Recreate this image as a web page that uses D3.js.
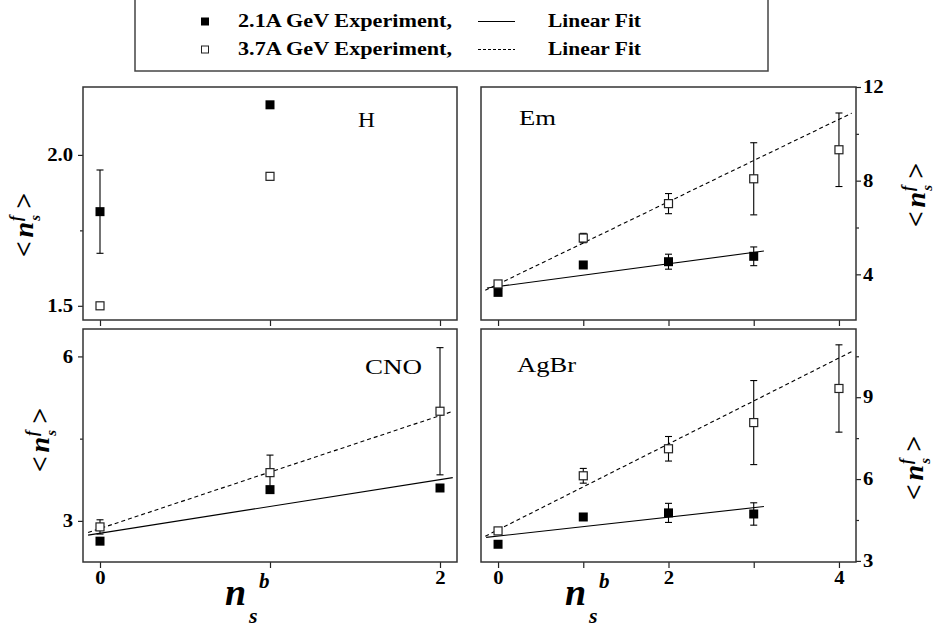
<!DOCTYPE html>
<html>
<head>
<meta charset="utf-8">
<script src="https://cdn.jsdelivr.net/npm/d3@7"></script>
<style>
  body { margin: 0; background: #fff; }
  svg { display: block; font-family: "Liberation Serif", "Times New Roman", serif; }
</style>
</head>
<body>
<svg id="chart" width="941" height="628"></svg>
<script>
// --- data ---
// H target
const hX = [0, 1];
const hFilled = [1.812, 2.166];
const hFilledErr = [0.138, 0];
const hOpen = [1.5, 1.929];
const hOpenErr = [0, 0];

// Em (whole emulsion)
const emXFilled = [0, 1, 2, 3];
const emFilled = [3.23, 4.4, 4.54, 4.77];
const emFilledErr = [0, 0, 0.32, 0.4];
const emXOpen = [0, 1, 2, 3, 4];
const emOpen = [3.59, 5.55, 7.02, 8.08, 9.32];
const emOpenErr = [0.1, 0.2, 0.43, 1.54, 1.57];
const emFit21 = [3.48, 0.486, -0.13, 3.12]; // intercept, slope, from, to
const emFit37 = [3.58, 1.76, -0.15, 4.15];

// CNO
const cnoX = [0, 1, 2];
const cnoFilled = [2.63, 3.57, 3.6];
const cnoFilledErr = [0, 0, 0];
const cnoOpen = [2.89, 3.88, 5.0];
const cnoOpenErr = [0.13, 0.32, 1.16];
const cnoFit21 = [2.775, 0.489, -0.07, 2.075];
const cnoFit37 = [2.86, 1.03, -0.07, 2.075];

// AgBr
const agXFilled = [0, 1, 2, 3];
const agFilled = [3.61, 4.61, 4.76, 4.72];
const agFilledErr = [0, 0, 0.35, 0.41];
const agXOpen = [0, 1, 2, 3, 4];
const agOpen = [4.1, 6.12, 7.11, 8.07, 9.32];
const agOpenErr = [0, 0.27, 0.45, 1.54, 1.6];
const agFit21 = [3.91, 0.347, -0.14, 3.12];
const agFit37 = [4.14, 1.574, -0.15, 4.15];

// legend
const legendNames = ["2.1A GeV Experiment,", "3.7A GeV Experiment,"];
const legendFitName = "Linear Fit";

const zip = (xs, ys, es) => xs.map((x, i) => ({ x, y: ys[i], e: es[i] }));

const panels = [
  {
    name: "H", left: 83, right: 457, top: 87, bottom: 320, side: "left",
    xDomain: [-0.1, 2.1], xTicks: [0, 1, 2], xLabels: [],
    yDomain: [1.453, 2.225], yMajor: [1.5, 2.0], yMinor: [1.75], yFormat: d3.format(".1f"),
    filled: zip(hX, hFilled, hFilledErr), open: zip(hX, hOpen, hOpenErr), fits: [],
    label: { x: 358, y: 127, len: 17 }, title: { x: 33, y: 225 }
  },
  {
    name: "Em", left: 481, right: 856, top: 87, bottom: 320, side: "right",
    xDomain: [-0.2, 4.2], xTicks: [0, 1, 2, 3, 4], xLabels: [],
    yDomain: [2.05, 12], yMajor: [4, 8, 12], yMinor: [6, 10], yFormat: d3.format("d"),
    filled: zip(emXFilled, emFilled, emFilledErr), open: zip(emXOpen, emOpen, emOpenErr),
    fits: [emFit21, emFit37],
    label: { x: 519, y: 125, len: 37 }, title: { x: 925, y: 195 }
  },
  {
    name: "CNO", left: 83, right: 457, top: 329, bottom: 562, side: "left",
    xDomain: [-0.1, 2.1], xTicks: [0, 1, 2], xLabels: [0, 2],
    yDomain: [2.25, 6.5], yMajor: [3, 6], yMinor: [4.5], yFormat: d3.format("d"),
    filled: zip(cnoX, cnoFilled, cnoFilledErr), open: zip(cnoX, cnoOpen, cnoOpenErr),
    fits: [cnoFit21, cnoFit37],
    label: { x: 365, y: 374, len: 57 }, title: { x: 49, y: 440 },
    xTitle: { x: 225, y: 605 }
  },
  {
    name: "AgBr", left: 481, right: 856, top: 329, bottom: 562, side: "right",
    xDomain: [-0.2, 4.2], xTicks: [0, 1, 2, 3, 4], xLabels: [0, 2, 4],
    yDomain: [2.96, 11.5], yMajor: [3, 6, 9], yMinor: [4.5, 7.5, 10.5], yFormat: d3.format("d"),
    filled: zip(agXFilled, agFilled, agFilledErr), open: zip(agXOpen, agOpen, agOpenErr),
    fits: [agFit21, agFit37],
    label: { x: 517, y: 372, len: 59 }, title: { x: 923, y: 468 },
    xTitle: { x: 565, y: 605 }
  }
];

const svg = d3.select("#chart");
const serif = '"Liberation Serif", "Times New Roman", serif';

function styleTicks(a) {
  a.select(".domain").remove();
  a.selectAll(".tick line").attr("stroke", "#222").attr("stroke-width", 1.2);
  a.selectAll(".tick text")
    .style("font-family", serif).style("font-size", "18px")
    .style("font-weight", "bold").attr("fill", "#000")
    .each(function () {
      const w = this.getComputedTextLength();
      if (w > 0) d3.select(this).attr("textLength", w * 1.15).attr("lengthAdjust", "spacingAndGlyphs");
    });
}

function yTitle(px, py) {
  const t = svg.append("text")
    .attr("transform", `translate(${px},${py}) rotate(-90)`)
    .attr("text-anchor", "middle")
    .attr("font-weight", "bold")
    .attr("font-size", 28);
  t.append("tspan").text("<");
  t.append("tspan").attr("dx", 4).attr("font-style", "italic").text("n");
  t.append("tspan").attr("font-size", 15).attr("font-style", "italic").attr("dx", 1).attr("dy", 7).text("s");
  t.append("tspan").attr("font-size", 16).attr("font-style", "italic").attr("dx", -6).attr("dy", -19).text("f");
  t.append("tspan").attr("dx", 7).attr("dy", 12).text(">");
}

function xTitle(px, py) {
  const g = svg.append("g").attr("font-weight", "bold").attr("font-style", "italic");
  g.append("text").attr("x", px).attr("y", py).attr("font-size", 38).text("n");
  g.append("text").attr("x", px + 24).attr("y", py + 18).attr("font-size", 22).text("s");
  g.append("text").attr("x", px + 34).attr("y", py - 17).attr("font-size", 21).text("b");
}

function drawPanel(p) {
  const x = d3.scaleLinear().domain(p.xDomain).range([p.left, p.right]);
  const y = d3.scaleLinear().domain(p.yDomain).range([p.bottom, p.top]);
  const g = svg.append("g");

  // y axis (major + minor)
  const axisFn = p.side === "left" ? d3.axisLeft : d3.axisRight;
  const ax = p.side === "left" ? p.left : p.right;
  g.append("g").attr("transform", `translate(${ax},0)`)
    .call(axisFn(y).tickValues(p.yMajor).tickSize(5).tickPadding(p.side === "left" ? 5 : 2).tickFormat(p.yFormat))
    .call(styleTicks);
  g.append("g").attr("transform", `translate(${ax},0)`)
    .call(axisFn(y).tickValues(p.yMinor).tickSize(3).tickFormat(""))
    .call(styleTicks);

  // x axis
  g.append("g").attr("transform", `translate(0,${p.bottom})`)
    .call(d3.axisBottom(x).tickValues(p.xTicks).tickSize(6).tickPadding(3)
      .tickFormat(d => p.xLabels.includes(d) ? d : ""))
    .call(styleTicks);

  // linear fits
  p.fits.forEach((f, i) => {
    const [a, b, x0, x1] = f;
    g.append("line")
      .attr("x1", x(x0)).attr("y1", y(a + b * x0))
      .attr("x2", x(x1)).attr("y2", y(a + b * x1))
      .attr("stroke", "#000").attr("stroke-width", 1.1)
      .attr("stroke-dasharray", i === 1 ? "4,3" : null);
  });

  // error bars
  const bars = p.filled.concat(p.open).filter(d => d.e > 0);
  const eb = g.append("g").attr("stroke", "#000").attr("stroke-width", 1.1);
  bars.forEach(d => {
    eb.append("line").attr("x1", x(d.x)).attr("x2", x(d.x)).attr("y1", y(d.y - d.e)).attr("y2", y(d.y + d.e));
    [d.y - d.e, d.y + d.e].forEach(v => {
      eb.append("line").attr("x1", x(d.x) - 3.5).attr("x2", x(d.x) + 3.5).attr("y1", y(v)).attr("y2", y(v));
    });
  });

  // markers
  g.selectAll(".fsq").data(p.filled).join("rect")
    .attr("x", d => x(d.x) - 4.5).attr("y", d => y(d.y) - 4.5)
    .attr("width", 9).attr("height", 9).attr("fill", "#000");
  g.selectAll(".osq").data(p.open).join("rect")
    .attr("x", d => x(d.x) - 4).attr("y", d => y(d.y) - 4)
    .attr("width", 8).attr("height", 8)
    .attr("fill", "#fff").attr("stroke", "#222").attr("stroke-width", 1.2);

  // frame
  g.append("rect")
    .attr("x", p.left).attr("y", p.top)
    .attr("width", p.right - p.left).attr("height", p.bottom - p.top)
    .attr("fill", "none").attr("stroke", "#333").attr("stroke-width", 1.5);

  // panel label
  g.append("text").attr("x", p.label.x).attr("y", p.label.y)
    .attr("font-size", 20).attr("textLength", p.label.len).attr("lengthAdjust", "spacingAndGlyphs")
    .text(p.name);

  yTitle(p.title.x, p.title.y);
  if (p.xTitle) xTitle(p.xTitle.x, p.xTitle.y);
}

panels.forEach(drawPanel);

// --- legend ---
const lg = svg.append("g");
lg.append("rect").attr("x", 135).attr("y", -1).attr("width", 633).attr("height", 72)
  .attr("fill", "#fff").attr("stroke", "#444").attr("stroke-width", 1.5);
legendNames.forEach((name, i) => {
  const cy = 21.5 + i * 28;
  if (i === 0) {
    lg.append("rect").attr("x", 201).attr("y", cy - 4).attr("width", 8).attr("height", 8).attr("fill", "#000");
  } else {
    lg.append("rect").attr("x", 201.5).attr("y", cy - 3.5).attr("width", 7).attr("height", 7)
      .attr("fill", "#fff").attr("stroke", "#222").attr("stroke-width", 1);
  }
  lg.append("text").attr("x", 238).attr("y", cy + 5)
    .attr("font-size", 18).attr("font-weight", "bold")
    .attr("textLength", 214).attr("lengthAdjust", "spacingAndGlyphs").text(name);
  lg.append("line").attr("x1", 478).attr("x2", 515).attr("y1", cy).attr("y2", cy)
    .attr("stroke", "#000").attr("stroke-width", 1)
    .attr("stroke-dasharray", i === 1 ? "3,2" : null);
  lg.append("text").attr("x", 548).attr("y", cy + 5)
    .attr("font-size", 18).attr("font-weight", "bold")
    .attr("textLength", 93).attr("lengthAdjust", "spacingAndGlyphs").text(legendFitName);
});
</script>
</body>
</html>
